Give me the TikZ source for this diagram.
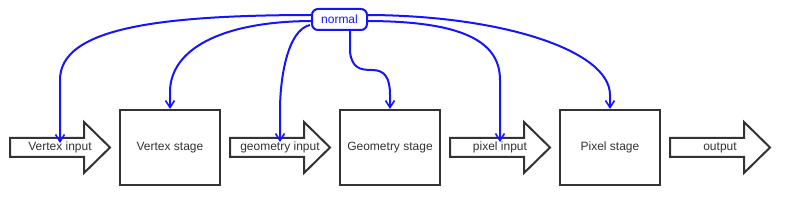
\documentclass[tikz,border=0pt]{standalone}
\usepackage{fontspec}
\setmainfont{Liberation Sans}
\usetikzlibrary{arrows.meta}
\definecolor{edge}{RGB}{51,51,51}
\definecolor{lnk}{RGB}{20,20,255}
\tikzset{
  stagebox/.style={draw=edge, line width=2pt, fill=white, minimum width=100pt, minimum height=75pt, inner sep=0pt, font=\fontsize{12}{14}\selectfont, text=edge},
  arrowshape/.style={draw=edge, line width=2pt, fill=white, line join=miter},
  lbl/.style={inner sep=0pt, font=\fontsize{12}{14}\selectfont, text=edge},
  link/.style={draw=lnk, line width=2pt, -{Straight Barb[length=7pt,width=9pt,line width=1.6pt]}},
  tagbox/.style={draw=lnk, line width=2pt, fill=white, rounded corners=6pt, minimum width=55pt, minimum height=21pt, inner sep=0pt, font=\fontsize{12}{14}\selectfont, text=lnk}
}
\newcommand{\flowarrow}[1]{%
  \draw[arrowshape] (#1,138) -- ++(74,0) -- ++(0,-16) -- (#1+100,147.5) -- (#1+74,173) -- ++(0,-16) -- (#1,157) -- cycle;%
}
\begin{document}
\begin{tikzpicture}[x=1pt,y=-1pt]
\useasboundingbox (0,0) rectangle (790,205);
% flow arrows
\flowarrow{10}
\flowarrow{230}
\flowarrow{450}
\flowarrow{670}
\node[lbl] (vin) at (60,147.5) {Vertex input};
\node[lbl] (gin) at (280,147.5) {geometry input};
\node[lbl] (pin) at (500,147.5) {pixel input};
\node[lbl] (out) at (720,147.5) {output};
% stages
\node[stagebox] (vs) at (170,147.5) {Vertex stage};
\node[stagebox] (gs) at (390,147.5) {Geometry stage};
\node[stagebox] (ps) at (610,147.5) {Pixel stage};
% links
\coordinate (t1) at (60,143);
\coordinate (t3) at (280,142);
\coordinate (t5) at (500,142);
\draw[link] (314,15) .. controls (150,15) and (60,30) .. (60,80) -- (t1);
\draw[link] (314,21) .. controls (220,21) and (170,50) .. (170,92) -- (vs.north);
\draw[link] (310,25) .. controls (287,30) and (280,80) .. (280,110) -- (t3);
\draw[link] (350,30) -- (350,52) .. controls (352,68) and (360,70) .. (372,70) .. controls (385,70) and (390,78) .. (390,95) -- (gs.north);
\draw[link] (365,21) .. controls (460,21) and (500,40) .. (500,80) -- (t5);
\draw[link] (365,15) .. controls (500,15) and (610,50) .. (610,95) -- (ps.north);
\node[tagbox] (normal) at (339.5,19.5) {normal};
\end{tikzpicture}
\end{document}
